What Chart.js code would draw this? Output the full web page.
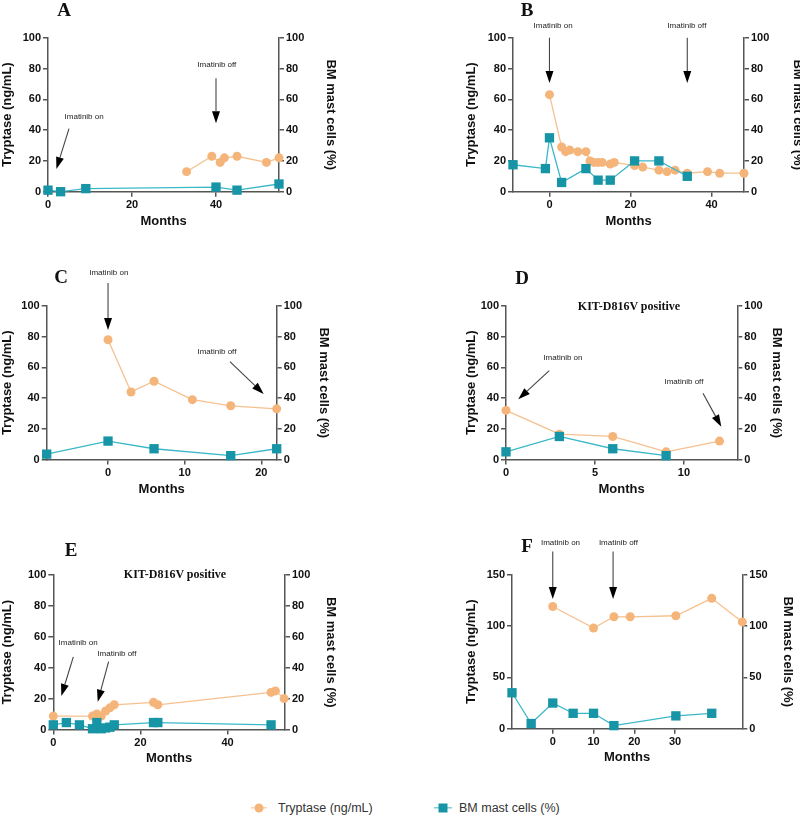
<!DOCTYPE html>
<html><head><meta charset="utf-8">
<script src="https://cdn.jsdelivr.net/npm/chart.js@4/dist/chart.umd.min.js"></script>
<style>
html,body{margin:0;padding:0;background:#fff;width:800px;height:816px;overflow:hidden;position:relative;}
canvas{position:absolute;}
.lbl{position:absolute;font:bold 19px 'Liberation Serif',serif;color:#111;transform:translate(-50%,-50%);line-height:1;white-space:nowrap;}
.kit{position:absolute;font:bold 12px 'Liberation Serif',serif;color:#111;transform:translate(-50%,-50%);line-height:1;white-space:nowrap;}
.leg{position:absolute;font:12.5px 'Liberation Sans',Arial,sans-serif;color:#333;line-height:1;white-space:nowrap;transform:translateY(-50%);}
.ln{position:absolute;height:1.3px;transform:translateY(-50%);}
.mk{position:absolute;transform:translate(-50%,-50%);}
</style></head><body>
<canvas id="cA"></canvas><canvas id="cB"></canvas><canvas id="cC"></canvas>
<canvas id="cD"></canvas><canvas id="cE"></canvas><canvas id="cF"></canvas>
<div class="lbl" style="left:64px;top:9px">A</div>
<div class="lbl" style="left:527px;top:9px">B</div>
<div class="lbl" style="left:61px;top:276px">C</div>
<div class="lbl" style="left:522px;top:277px">D</div>
<div class="lbl" style="left:71px;top:549px">E</div>
<div class="lbl" style="left:527px;top:545px">F</div>
<div class="kit" style="left:629px;top:306px">KIT-D816V positive</div>
<div class="kit" style="left:175px;top:574px">KIT-D816V positive</div>
<div class="ln" style="left:251px;top:808px;width:16px;background:#F6C08F"></div>
<div class="mk" style="left:259px;top:808px;width:9px;height:9px;border-radius:50%;background:#F5B57A"></div>
<div class="leg" style="left:278px;top:808px">Tryptase (ng/mL)</div>
<div class="ln" style="left:434px;top:808px;width:18px;background:#3BB8C8"></div>
<div class="mk" style="left:443px;top:808px;width:9px;height:9px;background:#1795A6"></div>
<div class="leg" style="left:459px;top:808px">BM mast cells (%)</div>
<script>
// ---- Data (months, values) ----
const monthsTryptaseA = [33, 39, 41, 42, 45, 52, 55];
const tryptaseA       = [13, 23, 19, 22, 23, 19, 22];
const monthsBmA       = [0, 3, 9, 40, 45, 55];
const bmA             = [1, 0, 2, 3, 1, 5];

const monthsTryptaseB = [0, 3, 4, 5, 7, 9, 10, 11, 12, 13, 15, 16, 21, 23, 27, 29, 31, 34, 39, 42, 48];
const tryptaseB       = [63, 29, 26, 27, 26, 26, 20, 19, 19, 19, 18, 19, 17, 16, 14, 13, 14, 12, 13, 12, 12];
const monthsBmB       = [-9, -1, 0, 3, 9, 12, 15, 21, 27, 34];
const bmB             = [17.5, 15, 35, 6, 15, 7.5, 7.5, 20, 20, 10];

const monthsTryptaseC = [0, 3, 6, 11, 16, 22];
const tryptaseC       = [78, 44, 51, 39, 35, 33];
const monthsBmC       = [-8, 0, 6, 16, 22];
const bmC             = [3.5, 12, 7, 2.5, 7];

const monthsTryptaseD = [0, 3, 6, 9, 12];
const tryptaseD       = [32, 16.5, 15, 5, 12];
const monthsBmD       = [0, 3, 6, 9];
const bmD             = [5, 15, 7, 2.5];

const monthsTryptaseE = [0, 9, 10, 11, 12, 13, 14, 23, 24, 50, 51, 53];
const tryptaseE       = [8.7, 8.7, 10, 8.7, 12, 14, 16, 17.6, 16, 24, 25, 20];
const monthsBmE       = [0, 3, 6, 9, 10, 11, 12, 13, 14, 23, 24, 50];
const bmE             = [3, 4.5, 3, 0.5, 4.5, 0.5, 1, 1.5, 3, 4.5, 4.5, 3];

const monthsTryptaseF = [0, 10, 15, 19, 30.2, 39, 46.5];
const tryptaseF       = [119, 98, 109, 109, 110, 127, 104];
const monthsBmF       = [-10, -5.3, 0, 5, 10, 15, 30.2, 39];
const bmF             = [35, 5, 25, 15, 15, 3, 12.5, 15];

// ---- Tick labels ----
const xTicksA = [0, 20, 40];
const xTicksB = [0, 20, 40];
const xTicksC = [0, 10, 20];
const xTicksD = [0, 5, 10];
const xTicksE = [0, 20, 40];
const xTicksF = [0, 10, 20, 30];
const yTicks100 = [0, 20, 40, 60, 80, 100];
const yTicks150 = [0, 50, 100, 150];

// ---- Annotation texts and arrows (in data units: month, value) ----
const ON = 'Imatinib on', OFF = 'Imatinib off';
const notesA = {labels: [[ON, 8.6, 48.5], [OFF, 40.2, 82.3]], arrows: [[5, 41, 2, 14.7], [40, 73.7, 40, 44.5]]};
const notesB = {labels: [[ON, 0.9, 107.6], [OFF, 33.9, 107.6]], arrows: [[0, 100, 0, 70.6], [34, 100, 34, 70.6]]};
const notesC = {labels: [[ON, 0.1, 121.5], [OFF, 14.2, 70.2]], arrows: [[0, 115, 0, 84.4], [15.9, 63.7, 20.3, 42.7]]};
const notesD = {labels: [[ON, 3.2, 66], [OFF, 10, 50.3]], arrows: [[2.43, 57.9, 0.69, 39.2], [11.07, 43.1, 12.1, 21.4]]};
const notesE = {labels: [[ON, 5.7, 56], [OFF, 14.6, 49]], arrows: [[4.6, 47, 1.84, 21.7], [12.7, 44, 10.2, 18]]};
const notesF = {labels: [[ON, 1.9, 181.2], [OFF, 16.1, 181.2]], arrows: [[0, 172.5, 0, 126.4], [14.8, 172.5, 14.8, 126.4]]};

const zip = (xs, ys) => xs.map((x, i) => ({x: x, y: ys[i]}));

const annotPlugin = {
  id: 'annot',
  afterDatasetsDraw(chart, args, opts) {
    const ctx = chart.ctx, xs = chart.scales.x, ys = chart.scales.y;
    ctx.save();
    (opts.arrows || []).forEach(a => {
      const x1 = xs.getPixelForValue(a[0]), y1 = ys.getPixelForValue(a[1]);
      const x2 = xs.getPixelForValue(a[2]), y2 = ys.getPixelForValue(a[3]);
      const ang = Math.atan2(y2 - y1, x2 - x1), hl = 12, hw = 4;
      const bx = x2 - hl * Math.cos(ang), by = y2 - hl * Math.sin(ang);
      ctx.strokeStyle = '#444'; ctx.lineWidth = 1.1;
      ctx.beginPath(); ctx.moveTo(x1, y1); ctx.lineTo(bx, by); ctx.stroke();
      ctx.fillStyle = '#000';
      ctx.beginPath(); ctx.moveTo(x2, y2);
      ctx.lineTo(bx + hw * Math.sin(ang), by - hw * Math.cos(ang));
      ctx.lineTo(bx - hw * Math.sin(ang), by + hw * Math.cos(ang));
      ctx.closePath(); ctx.fill();
    });
    ctx.font = "8px 'Liberation Sans', Arial, sans-serif";
    ctx.fillStyle = '#222'; ctx.textAlign = 'center'; ctx.textBaseline = 'middle';
    (opts.labels || []).forEach(l => {
      ctx.fillText(l[0], xs.getPixelForValue(l[1]), ys.getPixelForValue(l[2]));
    });
    ctx.restore();
  }
};

const AXIS = '#555';
const tickFont = {family: "'Liberation Sans', Arial, sans-serif", size: 11, weight: 'bold'};
const titleFont = {family: "'Liberation Sans', Arial, sans-serif", size: 13, weight: 'bold'};

function panel(id, canvasBox, plot, xr, xt, ymax, yt, mT, tV, mB, bV, notes) {
  const cv = document.getElementById(id);
  cv.width = canvasBox.w; cv.height = canvasBox.h;
  cv.style.left = canvasBox.l + 'px'; cv.style.top = canvasBox.t + 'px';
  cv.style.width = canvasBox.w + 'px'; cv.style.height = canvasBox.h + 'px';
  const leftW = plot.l - canvasBox.l;
  const rightW = canvasBox.l + canvasBox.w - plot.r;
  const bottomH = canvasBox.t + canvasBox.h - plot.b;
  const padTop = plot.t - canvasBox.t;
  const common = (vals) => ({
    grid: {drawOnChartArea: false, drawTicks: true, tickLength: 5, color: AXIS, lineWidth: 1.5},
    border: {display: true, color: AXIS, width: 1.5},
    ticks: {font: tickFont, color: '#111', padding: 2},
    afterBuildTicks: s => { s.ticks = vals.map(v => ({value: v})); }
  });
  new Chart(cv, {
    type: 'line',
    data: {datasets: [
      {label: 'Tryptase (ng/mL)', data: zip(mT, tV), yAxisID: 'y', order: 1, clip: false,
       borderColor: '#F6C08F', borderWidth: 1.3, backgroundColor: '#F5B57A',
       pointBackgroundColor: '#F5B57A', pointBorderColor: '#F5B57A', pointBorderWidth: 0,
       pointRadius: 4.5, pointStyle: 'circle', tension: 0},
      {label: 'BM mast cells (%)', data: zip(mB, bV), yAxisID: 'y1', order: 0, clip: false,
       borderColor: '#3BB8C8', borderWidth: 1.3, backgroundColor: '#1795A6',
       pointBackgroundColor: '#1795A6', pointBorderColor: '#1795A6', pointBorderWidth: 0,
       pointRadius: 6.6, pointStyle: 'rect', tension: 0}
    ]},
    options: {
      responsive: false, animation: false, devicePixelRatio: 1,
      layout: {padding: {top: padTop, left: 0, right: 0, bottom: 0}},
      plugins: {legend: {display: false}, tooltip: {enabled: false}, annot: notes},
      scales: {
        x: Object.assign(common(xt), {type: 'linear', min: xr[0], max: xr[1],
          afterFit: s => { s.height = bottomH; },
          title: {display: true, text: 'Months', font: titleFont, color: '#111', padding: {top: 0, bottom: 0}}}),
        y: Object.assign(common(yt), {position: 'left', min: 0, max: ymax,
          afterFit: s => { s.width = leftW; },
          title: {display: true, text: 'Tryptase (ng/mL)', font: titleFont, color: '#111', padding: {top: 0, bottom: 0}}}),
        y1: Object.assign(common(yt), {position: 'right', min: 0, max: ymax,
          afterFit: s => { s.width = rightW; },
          title: {display: true, text: 'BM mast cells (%)', font: titleFont, color: '#111', padding: {top: 0, bottom: 0}}})
      }
    },
    plugins: [annotPlugin]
  });
}

panel('cA', {l: 0, t: 0, w: 338, h: 229}, {l: 48, t: 37.7, r: 279, b: 191.7}, [0, 55], xTicksA, 100, yTicks100,
      monthsTryptaseA, tryptaseA, monthsBmA, bmA, notesA);
panel('cB', {l: 464, t: 0, w: 341, h: 229}, {l: 513, t: 37.7, r: 744, b: 191.7}, [-9, 48], xTicksB, 100, yTicks100,
      monthsTryptaseB, tryptaseB, monthsBmB, bmB, notesB);
panel('cC', {l: 0, t: 240, w: 331, h: 257}, {l: 46.7, t: 306, r: 276.7, b: 459.5}, [-8, 22], xTicksC, 100, yTicks100,
      monthsTryptaseC, tryptaseC, monthsBmC, bmC, notesC);
panel('cD', {l: 464, t: 240, w: 320, h: 257}, {l: 506, t: 306, r: 737.3, b: 459.5}, [0, 13], xTicksD, 100, yTicks100,
      monthsTryptaseD, tryptaseD, monthsBmD, bmD, notesD);
panel('cE', {l: 0, t: 520, w: 338, h: 246}, {l: 53.3, t: 575, r: 285, b: 729.5}, [0, 53.2], xTicksE, 100, yTicks100,
      monthsTryptaseE, tryptaseE, monthsBmE, bmE, notesE);
panel('cF', {l: 464, t: 520, w: 331, h: 245}, {l: 512, t: 574.7, r: 742.3, b: 728.7}, [-10, 46.5], xTicksF, 150, yTicks150,
      monthsTryptaseF, tryptaseF, monthsBmF, bmF, notesF);
</script>
</body></html>
